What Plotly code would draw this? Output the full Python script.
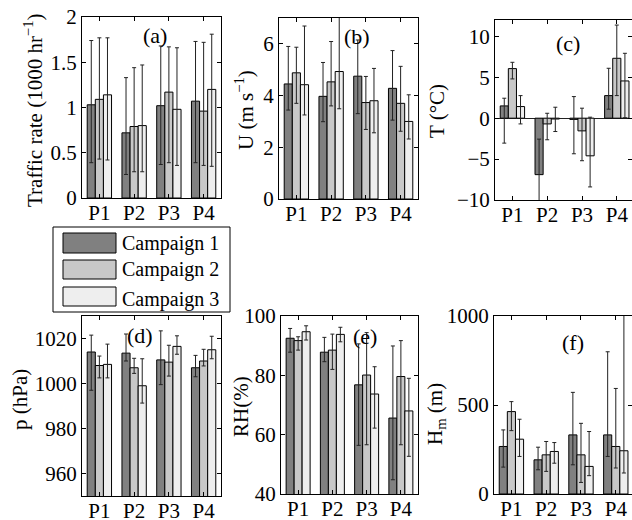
import plotly.graph_objects as go

# ---------------- data ----------------
categories = ["P1", "P2", "P3", "P4"]
campaigns = ["Campaign 1", "Campaign 2", "Campaign 3"]
campaign_colors = ["#808080", "#c8c8c8", "#eeeeee"]

# (a) traffic rate (1000 hr^-1): mean, upper end, lower end of error bar; rows = campaigns
traffic_mean = [[1.03, 0.72, 1.02, 1.07], [1.09, 0.79, 1.17, 0.96], [1.14, 0.80, 0.98, 1.20]]
traffic_upper = [[1.74, 1.33, 1.68, 1.73], [1.77, 1.44, 1.67, 1.72], [1.77, 1.47, 1.66, 1.81]]
traffic_lower = [[0.39, 0.26, 0.37, 0.39], [0.43, 0.29, 0.39, 0.36], [0.42, 0.29, 0.36, 0.35]]

# (b) wind speed U (m s^-1)
wind_mean = [[4.45, 3.97, 4.75, 4.28], [4.88, 4.53, 3.73, 3.70], [4.42, 4.93, 3.80, 3.00]]
wind_upper = [[5.90, 5.28, 6.15, 5.74], [5.87, 6.09, 4.74, 5.13], [6.69, 7.60, 5.05, 4.03]]
wind_lower = [[3.44, 2.99, 3.30, 3.05], [3.70, 3.60, 2.69, 2.62], [3.25, 3.49, 2.56, 2.32]]

# (c) temperature T (degC)
temp_mean = [[1.5, -6.9, -0.15, 2.76], [6.06, -0.7, -1.55, 7.32], [1.42, -0.1, -4.6, 4.55]]
temp_upper = [[2.44, -2.56, 2.64, 6.1], [6.83, 0.6, 1.22, 11.38], [2.76, 1.34, 0.12, 7.93]]
temp_lower = [[-3.05, -10.5, -4.35, 1.1], [4.8, -2.64, -5.2, 2.76], [-0.7, -1.63, -8.4, 0.05]]

# (d) pressure p (hPa)
pressure_mean = [[1014, 1013.5, 1010.5, 1007], [1008, 1007, 1009.5, 1010], [1008.5, 999, 1016.5, 1015]]
pressure_upper = [[1021.5, 1022, 1023.4, 1012.5], [1012.2, 1011.2, 1017, 1015.2], [1017.5, 1011, 1021.2, 1021]]
pressure_lower = [[997, 1010, 999.5, 1003], [1002.5, 1004.5, 1003.3, 1007.8], [1002.5, 991.3, 1013, 1011]]

# (e) relative humidity RH (%)
rh_mean = [[92.5, 87.8, 76.8, 65.6], [91.7, 88.5, 80.1, 79.6], [94.7, 93.8, 73.7, 68.0]]
rh_upper = [[95.8, 92.8, 90.6, 89.9], [93.0, 93.9, 94.4, 91.7], [96.7, 96.2, 82.9, 79.0]]
rh_lower = [[87.8, 84.6, 56.4, 44.8], [88.5, 82.0, 56.6, 56.6], [91.9, 91.3, 62.2, 52.7]]

# (f) mixing height Hm (m)
mixing_mean = [[267, 192, 332, 332], [463, 220, 220, 267], [308, 239, 155, 243]]
mixing_upper = [[360, 263, 571, 799], [519, 295, 397, 593], [420, 289, 351, 1100]]
mixing_lower = [[151, 136, 164, 211], [356, 127, 65, 146], [211, 173, 103, 118]]

# ---------------- layout helpers ----------------
W, H = 632, 520
FONT = "Liberation Serif, Times New Roman, serif"


def fx(p):
    return p / W


def fy(p):
    return 1 - p / H


panels = [
    dict(mean=traffic_mean, up=traffic_upper, lo=traffic_lower, xdom=(82, 221), ydom=(17, 198),
         xr=[-0.5, 3.5], yr=[0, 2], yt=[0, 0.5, 1, 1.5, 2], zl=False,
         label="(a)", lab=(155, 36), title="Traffic rate (1000 hr<sup>−1</sup>)", tpos=(33, 110)),
    dict(mean=wind_mean, up=wind_upper, lo=wind_lower, xdom=(279, 418), ydom=(18, 199),
         xr=[-0.5, 3.5], yr=[0, 7], yt=[0, 2, 4, 6], zl=False,
         label="(b)", lab=(357, 37), title="U (m s<sup>−1</sup>)", tpos=(244, 110)),
    dict(mean=temp_mean, up=temp_upper, lo=temp_lower, xdom=(495, 632), ydom=(20, 200),
         xr=[-0.5, 3.437], yr=[-10, 12], yt=[-10, -5, 0, 5, 10], zl=True,
         label="(c)", lab=(568, 43), title="T (°C)", tpos=(437, 111)),
    dict(mean=pressure_mean, up=pressure_upper, lo=pressure_lower, xdom=(82, 221), ydom=(316, 496),
         xr=[-0.5, 3.5], yr=[950, 1030], yt=[960, 980, 1000, 1020], zl=False,
         label="(d)", lab=(140, 335), title="p (hPa)", tpos=(20, 400)),
    dict(mean=rh_mean, up=rh_upper, lo=rh_lower, xdom=(281, 418), ydom=(316, 494),
         xr=[-0.5, 3.5], yr=[40, 100], yt=[40, 60, 80, 100], zl=False,
         label="(e)", lab=(365, 336), title="RH(%)", tpos=(241, 407)),
    dict(mean=mixing_mean, up=mixing_upper, lo=mixing_lower, xdom=(494, 632), ydom=(316, 494),
         xr=[-0.5, 3.466], yr=[0, 1000], yt=[0, 500, 1000], zl=False,
         label="(f)", lab=(573, 342), title="H<sub>m</sub> (m)", tpos=(436, 414)),
]

fig = go.Figure()
annotations = []
shapes = []
axis_font = dict(family=FONT, size=21, color="black")

for i, p in enumerate(panels):
    n = "" if i == 0 else str(i + 1)
    xref, yref = "x" + n, "y" + n
    for k, name in enumerate(campaigns):
        m = p["mean"][k]
        up = [u - v for u, v in zip(p["up"][k], m)]
        dn = [v - l for v, l in zip(m, p["lo"][k])]
        fig.add_trace(go.Bar(
            x=categories, y=m, name=name, showlegend=False,
            marker=dict(color=campaign_colors[k], line=dict(color="black", width=1)),
            error_y=dict(type="data", symmetric=False, array=up, arrayminus=dn,
                         color="#222222", thickness=1, width=2),
            xaxis=xref, yaxis=yref, offsetgroup=str(k),
        ))
    fig.layout["xaxis" + n] = dict(
        domain=[fx(p["xdom"][0]), fx(p["xdom"][1])], anchor=yref, automargin=False,
        range=p["xr"], type="category", showline=True, linecolor="black", linewidth=1,
        mirror="ticks", ticks="inside", ticklen=4, tickcolor="black", ticklabelstandoff=-4,
        showgrid=False, zeroline=False, tickfont=axis_font, fixedrange=True,
    )
    fig.layout["yaxis" + n] = dict(
        domain=[fy(p["ydom"][1]), fy(p["ydom"][0])], anchor=xref, automargin=False,
        range=p["yr"], tickvals=p["yt"], showline=True, linecolor="black", linewidth=1,
        mirror="ticks", ticks="inside", ticklen=4, tickcolor="black",
        showgrid=False, zeroline=p["zl"], zerolinecolor="#222222", zerolinewidth=1,
        tickfont=axis_font, fixedrange=True,
    )
    annotations.append(dict(text=p["label"], x=fx(p["lab"][0]), y=fy(p["lab"][1]),
                            xref="paper", yref="paper", showarrow=False,
                            xanchor="center", yanchor="middle",
                            font=dict(family=FONT, size=22, color="black")))
    annotations.append(dict(text=p["title"], x=fx(p["tpos"][0]), y=fy(p["tpos"][1]),
                            xref="paper", yref="paper", showarrow=False, textangle=-90,
                            xanchor="center", yanchor="middle",
                            font=dict(family=FONT, size=21, color="black")))

# ---------------- legend (drawn box) ----------------
shapes.append(dict(type="rect", xref="paper", yref="paper",
                   x0=fx(53), x1=fx(230), y0=fy(312), y1=fy(227),
                   line=dict(color="black", width=1), fillcolor="white", layer="above"))
legend_rows = [(233, 253), (260, 279), (287, 306)]
for k, name in enumerate(campaigns):
    r0, r1 = legend_rows[k]
    shapes.append(dict(type="rect", xref="paper", yref="paper",
                       x0=fx(63), x1=fx(116), y0=fy(r1), y1=fy(r0),
                       line=dict(color="black", width=1), fillcolor=campaign_colors[k], layer="above"))
    annotations.append(dict(text=name, x=fx(120), y=fy((r0 + r1) / 2 + (3 if k == 2 else 0)),
                            xref="paper", yref="paper", showarrow=False,
                            xanchor="left", yanchor="middle",
                            font=dict(family=FONT, size=20, color="black")))

fig.update_layout(
    template="none",
    width=W, height=H, margin=dict(l=0, r=0, t=0, b=0, pad=0, autoexpand=False),
    paper_bgcolor="white", plot_bgcolor="white",
    barmode="group", bargap=0.3, bargroupgap=0,
    showlegend=False, annotations=annotations, shapes=shapes,
    font=dict(family=FONT, size=21, color="black"),
)

fig.write_html("out.html", config={"displayModeBar": False})

# remove the browser's default page margin so the figure sits at the window origin
with open("out.html", "r", encoding="utf-8") as f:
    html = f.read()
html = html.replace("<head>", "<head><style>html,body{margin:0;padding:0;overflow:hidden;}</style>", 1)
with open("out.html", "w", encoding="utf-8") as f:
    f.write(html)
